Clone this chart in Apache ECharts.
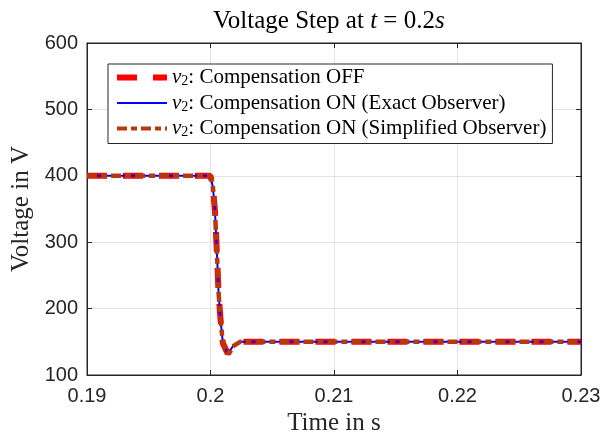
<!DOCTYPE html>
<html>
<head>
<meta charset="utf-8">
<script src="https://cdn.jsdelivr.net/npm/echarts@6/dist/echarts.min.js"></script>
<style>
  html, body { margin: 0; padding: 0; background: #fff; }
  #main { width: 603px; height: 435px; }
</style>
</head>
<body>
<div id="main"></div>
<script>
// time axis (s) and the three voltage traces (V)
var time      = [0.19, 0.2, 0.2001, 0.2002, 0.20036, 0.20053, 0.20065, 0.2008, 0.201, 0.2014, 0.2018, 0.2024, 0.203, 0.23];
var voltOff   = [400,  400, 397,    382,    347,     280,     225,     186,    148,   132,    143,    150,    150,   150];
var voltExact = [400,  400, 397,    382,    347,     280,     225,     186,    148,   132,    143,    150,    150,   150];
var voltSimp  = [400,  400, 397,    382,    347,     280,     225,     186,    148,   132,    143,    150,    150,   150];
var xTicks = [0.19, 0.2, 0.21, 0.22, 0.23];
var yTicks = [100, 200, 300, 400, 500, 600];
var names = ['Compensation OFF', 'Compensation ON (Exact Observer)', 'Compensation ON (Simplified Observer)'];

function pairs(v) {
  return time.map(function (t, i) { return [t, v[i]]; });
}

var serif = '"Liberation Serif", "DejaVu Serif", serif';
var sans = '"Liberation Sans", Arial, sans-serif';
var ink = '#262626';

var myChart = echarts.init(document.getElementById('main'));
myChart.setOption({
  animation: false,
  title: {
    text: '{n|Voltage Step at }{i|t}{n| = 0.2}{i|s}',
    left: 208, top: 4,
    textStyle: {
      rich: {
        n: { fontFamily: serif, fontSize: 25, fontWeight: 'normal', color: '#000' },
        i: { fontFamily: serif, fontSize: 25, fontWeight: 'normal', fontStyle: 'italic', color: '#000' }
      }
    }
  },
  grid: { left: 87, right: 22, top: 43, bottom: 60, outerBoundsMode: 'none',
    show: true, borderColor: ink, borderWidth: 1 },
  legend: {
    orient: 'vertical', left: 108, top: 64,
    padding: [3, 6, 4, 6], itemGap: 4,
    itemWidth: 50, itemHeight: 14,
    borderColor: ink, borderWidth: 1, backgroundColor: '#fff',
    itemStyle: { opacity: 0 },
    data: [
      { name: names[0], lineStyle: { width: 6 } },
      { name: names[1], lineStyle: { width: 2 } },
      { name: names[2], lineStyle: { width: 4 } }
    ],
    formatter: function (n) { return '{v|v}{s|2}{t|: ' + n + '}'; },
    textStyle: {
      rich: {
        v: { fontFamily: serif, fontSize: 21, fontStyle: 'italic', color: '#000' },
        s: { fontFamily: serif, fontSize: 14, color: '#000', padding: [8, 0, 0, 0] },
        t: { fontFamily: serif, fontSize: 21, color: '#000' }
      }
    }
  },
  xAxis: [{
    type: 'value', min: 0.19, max: 0.23, interval: 0.01,
    name: 'Time in s', nameLocation: 'middle', nameGap: 34,
    nameTextStyle: { fontFamily: serif, fontSize: 25, color: ink },
    axisLine: { lineStyle: { color: ink } },
    axisTick: { inside: true, length: 5, lineStyle: { color: ink } },
    axisLabel: {
      margin: 11, fontFamily: sans, fontSize: 20, color: ink,
      formatter: function (v) { return xTicks.indexOf(+v.toFixed(2)) >= 0 ? String(+v.toFixed(2)) : ''; }
    },
    splitLine: { show: true, lineStyle: { color: '#e3e3e3' } }
  }, {
    type: 'value', position: 'top', min: 0.19, max: 0.23, interval: 0.01,
    axisLine: { lineStyle: { color: ink } },
    axisTick: { inside: true, length: 5, lineStyle: { color: ink } },
    axisLabel: { show: false }, splitLine: { show: false }
  }],
  yAxis: [{
    type: 'value', min: 100, max: 600, interval: 100,
    name: 'Voltage in V', nameLocation: 'middle', nameGap: 53,
    nameTextStyle: { fontFamily: serif, fontSize: 25, color: ink },
    axisLine: { show: true, lineStyle: { color: ink } },
    axisTick: { show: true, inside: true, length: 5, lineStyle: { color: ink } },
    axisLabel: {
      margin: 9, fontFamily: sans, fontSize: 20, color: ink,
      formatter: function (v) { return yTicks.indexOf(v) >= 0 ? String(v) : ''; }
    },
    splitLine: { show: true, lineStyle: { color: '#e3e3e3' } }
  }, {
    type: 'value', position: 'right', min: 100, max: 600, interval: 100,
    axisLine: { show: true, lineStyle: { color: ink } },
    axisTick: { show: true, inside: true, length: 5, lineStyle: { color: ink } },
    axisLabel: { show: false }, splitLine: { show: false }
  }],
  series: [{
    name: names[0], type: 'line', data: pairs(voltOff), symbol: 'none',
    itemStyle: { color: '#ff0000' },
    lineStyle: { color: '#ff0000', width: 6, type: [20, 16] }, z: 2
  }, {
    name: names[1], type: 'line', data: pairs(voltExact), symbol: 'none',
    itemStyle: { color: '#0000ff' },
    lineStyle: { color: '#0000ff', width: 2, type: 'solid' }, z: 3
  }, {
    name: names[2], type: 'line', data: pairs(voltSimp), symbol: 'none',
    itemStyle: { color: '#b8380c' },
    lineStyle: { color: '#b8380c', width: 4.5, type: [10, 4, 6, 4] }, z: 4
  }]
});
</script>
</body>
</html>
